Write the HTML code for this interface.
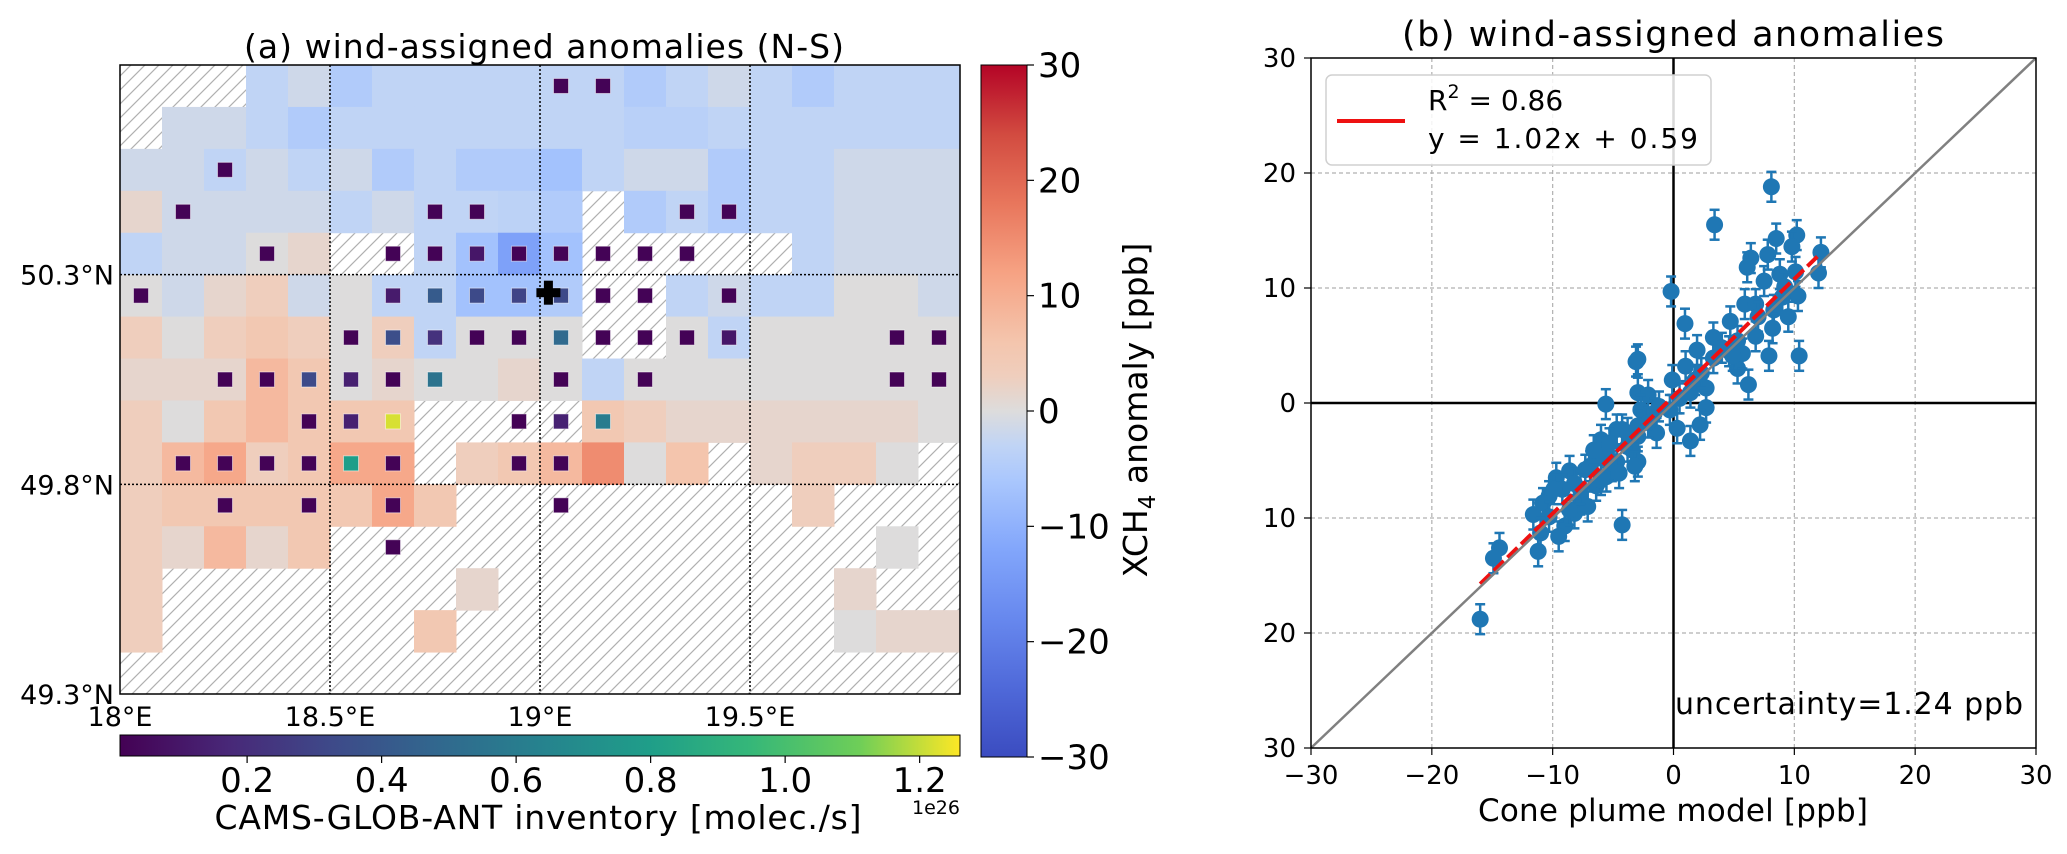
<!DOCTYPE html>
<html><head><meta charset="utf-8"><style>
html,body{margin:0;padding:0;background:#fff;}
svg{display:block;font-family:"DejaVu Sans","Liberation Sans",sans-serif;}
</style></head><body>
<svg id="fig" width="2067" height="854" viewBox="0 0 2067 854" xmlns="http://www.w3.org/2000/svg">
<defs>
<pattern id="hatch" patternUnits="userSpaceOnUse" width="14" height="14">
<rect width="14" height="14" fill="#fff"/>
<path d="M-2,16 L16,-2 M-2,2 L2,-2 M12,16 L16,12" stroke="#b0b0b0" stroke-width="1.2"/>
</pattern>
<linearGradient id="cwGrad" x1="0" y1="1" x2="0" y2="0">
<stop offset="0" stop-color="#3b4cc0"/><stop offset="0.1" stop-color="#4f69d9"/>
<stop offset="0.2" stop-color="#6788ee"/><stop offset="0.3" stop-color="#82a6fb"/>
<stop offset="0.4" stop-color="#aac7fd"/><stop offset="0.45" stop-color="#c0d4f5"/>
<stop offset="0.5" stop-color="#dddcdc"/><stop offset="0.55" stop-color="#efcebd"/>
<stop offset="0.6" stop-color="#f4c5ad"/><stop offset="0.7" stop-color="#f6a283"/>
<stop offset="0.8" stop-color="#e8765c"/><stop offset="0.9" stop-color="#d24b40"/>
<stop offset="1" stop-color="#b40426"/>
</linearGradient>
<linearGradient id="vGrad" x1="0" y1="0" x2="1" y2="0">
<stop offset="0" stop-color="#440154"/><stop offset="0.13" stop-color="#482878"/>
<stop offset="0.25" stop-color="#3e4989"/><stop offset="0.38" stop-color="#31688e"/>
<stop offset="0.5" stop-color="#26828e"/><stop offset="0.63" stop-color="#1f9e89"/>
<stop offset="0.75" stop-color="#35b779"/><stop offset="0.88" stop-color="#6ece58"/>
<stop offset="1" stop-color="#fde725"/>
</linearGradient>
</defs>

<text x="544" y="58" font-size="33" text-anchor="middle" textLength="600">(a) wind-assigned anomalies (N-S)</text>
<rect x="120" y="65" width="840" height="629" fill="url(#hatch)"/>
<g id="cells"></g>
<g id="mapgrid"></g>
<g id="squares"></g>
<g id="cross"></g>
<rect x="120" y="65" width="840" height="629" fill="none" stroke="#000" stroke-width="1.5"/>
<g id="maplabels"></g>

<rect x="981" y="65" width="46" height="692" fill="url(#cwGrad)" stroke="#000" stroke-width="1"/>
<g id="cbticks"></g>
<text transform="translate(1147,410) rotate(-90)" font-size="33" text-anchor="middle">XCH<tspan font-size="23" dy="8">4</tspan><tspan dy="-8"> anomaly [ppb]</tspan></text>

<rect x="120" y="735" width="840" height="21" fill="url(#vGrad)" stroke="#000" stroke-width="1"/>
<g id="hcbticks"></g>
<text x="538" y="829" font-size="33" text-anchor="middle" textLength="647">CAMS-GLOB-ANT inventory [molec./s]</text>
<text x="960" y="814" font-size="19" text-anchor="end">1e26</text>

<text x="1673" y="46" font-size="35" text-anchor="middle" textLength="542">(b) wind-assigned anomalies</text>
<g id="scatter"></g>
<text x="1673" y="821" font-size="31" text-anchor="middle" textLength="390">Cone plume model [ppb]</text>
<text x="1675" y="714" font-size="30" textLength="348">uncertainty=1.24 ppb</text>
<g>
<rect x="1326" y="75" width="385" height="90" rx="6" fill="#fff" fill-opacity="0.85" stroke="#d0d0d0" stroke-width="1.5"/>
<line x1="1337" y1="121" x2="1405" y2="121" stroke="#ee1111" stroke-width="4"/>
<text x="1428" y="110" font-size="28">R<tspan font-size="19" dy="-12">2</tspan><tspan dy="12"> = 0.86</tspan></text>
<text x="1428" y="148" font-size="28" textLength="270">y = 1.02x + 0.59</text>
</g>
</svg>

<script>
// ---------- panel (a) data ----------
const anomalyGrid = [
[null,null,null,-3,-1.5,-5,-3,-3,-3,-3,-3,-3,-5,-3,-1.5,-3,-5,-3,-3,-3],
[null,-1.5,-1.5,-3,-5,-3,-3,-3,-3,-3,-3,-3,-4,-4,-3,-3,-3,-3,-3,-3],
[-1.5,-1.5,-3,-1.5,-3,-1.5,-5,-3,-5,-5,-7,-3,-1.5,-1.5,-5,-3,-3,-1.5,-1.5,-1.5],
[1.5,-1.5,-1.5,-1.5,-1.5,-3,-1.5,-3,-3,-3.5,-5,null,-5,-3,-5,-3,-3,-1.5,-1.5,-1.5],
[-3,-1.5,-1.5,0,1.5,null,null,-3,-7,-13,-7,null,null,null,null,null,-3,-1.5,-1.5,-1.5],
[0,-1.5,1.5,3,-1.5,0,-3,-3,-7,-7,-5,null,null,-3,-1.5,-3,-3,0,0,-1.5],
[3,0,3,5,3,0,3,-3,0,0,0,null,null,0,-3,0,0,0,0,0],
[1.5,1.5,1.5,8,5,0,1.5,0,0,1.5,0,-3,0,0,0,0,0,0,0,0],
[3,0,5,8,5,5,5,null,null,null,null,5,3,1.5,1.5,1.5,1.5,1.5,1.5,0],
[3,8,11,3,5,11,11,null,3,5,8,15,0,6,null,1.5,3,3,0,null],
[3,5,5,5,5,5,11,5,null,null,null,null,null,null,null,null,3,null,null,null],
[3,1.5,8,1.5,5,null,null,null,null,null,null,null,null,null,null,null,null,null,0,null],
[3,null,null,null,null,null,null,null,1.5,null,null,null,null,null,null,null,null,1.5,null,null],
[3,null,null,null,null,null,null,5,null,null,null,null,null,null,null,null,null,0,1.5,1.5],
[null,null,null,null,null,null,null,null,null,null,null,null,null,null,null,null,null,null,null,null]
];
const srcRows = [0,0,2,3,3,3,3,3,4,4,4,4,4,4,4,4,4,5,5,5,5,5,5,5,5,5,6,6,6,6,6,6,6,6,6,6,6,6,7,7,7,7,7,7,7,7,7,7,8,8,8,8,8,8,9,9,9,9,9,9,9,9,10,10,10,10,11];
const srcCols = [10,11,2,1,7,8,13,14,3,6,7,8,9,10,11,12,13,0,6,7,8,9,10,11,12,14,5,6,7,8,9,10,11,12,13,14,18,19,2,3,4,5,6,7,10,12,18,19,4,5,6,9,10,11,1,2,3,4,5,6,9,10,2,4,6,10,6];
const srcEmis = [0.02,0.02,0.02,0.02,0.02,0.02,0.02,0.02,0.02,0.02,0.02,0.1,0.02,0.02,0.02,0.02,0.02,0.02,0.12,0.42,0.33,0.3,0.33,0.02,0.02,0.02,0.02,0.35,0.22,0.02,0.02,0.5,0.02,0.02,0.02,0.1,0.02,0.02,0.02,0.02,0.33,0.14,0.02,0.55,0.02,0.02,0.02,0.02,0.02,0.14,1.22,0.02,0.15,0.6,0.02,0.02,0.02,0.02,0.8,0.02,0.02,0.02,0.02,0.02,0.02,0.02,0.02];
const lonTicks = [18, 18.5, 19, 19.5];
const lonTickLabels = ["18°E","18.5°E","19°E","19.5°E"];
const latTicks = [49.3, 49.8, 50.3];
const latTickLabels = ["49.3°N","49.8°N","50.3°N"];
const cbTicks = [30,20,10,0,-10,-20,-30];
const cbTickLabels = ["30","20","10","0","\u221210","\u221220","\u221230"];
const hcbTicks = [0.2,0.4,0.6,0.8,1.0,1.2];
const hcbTickLabels = ["0.2","0.4","0.6","0.8","1.0","1.2"];
const srcLon = 19.02, srcLat = 50.257;

// ---------- panel (b) data ----------
const modelX = [8.1,3.4,10.2,9.8,8.5,12.2,12.0,7.8,6.4,6.1,7.5,8.8,10.1,9.2,-0.2,10.3,9.0,8.3,5.9,6.8,7.0,9.5,0.95,4.7,8.2,6.8,3.3,1.95,5.3,7.9,10.4,6.2,-3.1,-2.95,5.3,5.7,3.3,4.0,1.0,1.8,-0.1,2.7,-2.95,-2.1,-5.6,1.4,0.5,2.3,4.6,4.9,
-2.7,2.7,0.3,2.2,1.4,-1.6,-0.3,-1.4,-2.95,-4.25,-6.0,-5.55,-3.8,-2.95,-4.7,-6.4,-7.3,-8.6,-9.7,-8.2,-5.55,-6.4,-9.2,-10.3,-7.7,-7.1,-10.8,-11.6,-10.3,-8.2,-9.0,-11.0,-4.25,-14.4,-11.2,-14.9,-16.0,-9.5,-3.4,-4.7,-2.1,-1.2,-6.9,-5.1,-7.7,-9.9,-6.0,-3.8,-3.2,-8.6,-5.3,-6.6,-2.95,-4.5];
const obsY = [18.8,15.5,14.6,13.6,14.3,13.1,11.3,12.9,12.6,11.8,10.6,11.2,11.4,10.1,9.7,9.3,9.2,8.1,8.6,8.6,7.5,7.5,6.9,7.1,6.5,5.8,5.7,4.6,5.4,4.1,4.1,1.6,3.6,3.8,3.0,4.3,3.9,4.8,3.2,2.0,2.0,1.3,0.9,0.7,-0.1,0.9,0.4,2.6,4.5,4.1,
-0.6,-0.4,-2.2,-1.9,-3.3,-0.9,-0.6,-2.6,-2.9,-2.3,-3.2,-4.3,-3.8,-5.1,-5.1,-4.8,-5.8,-5.9,-6.5,-7.0,-6.4,-7.2,-7.5,-8.1,-8.4,-9.0,-8.7,-9.7,-9.9,-9.6,-10.7,-11.3,-10.6,-12.6,-12.9,-13.5,-18.8,-11.6,-4.1,-2.3,-1.7,-0.3,-5.5,-5.5,-7.5,-7.5,-6.7,-2.6,-5.5,-9.3,-3.5,-4.1,-2.0,-6.1];
const errBar = 1.3;
const fitSlope = 1.02, fitIntercept = 0.59, fitXMin = -16, fitXMax = 12.2;
const sTicks = [-30,-20,-10,0,10,20,30];
const sXTickLabels = ["\u221230","\u221220","\u221210","0","10","20","30"];
const sYTickLabels = ["30","20","10","0","10","20","30"];

const NS = "http://www.w3.org/2000/svg";
function mk(tag, attrs, parent){ const e=document.createElementNS(NS,tag); for(const k in attrs) e.setAttribute(k,attrs[k]); parent.appendChild(e); return e; }
const lonX = l => 120 + (l-18)*420;
const latY = la => 65 + (50.8-la)*(629/1.5);
const cbY = v => 65 + (30-v)*(692/60);
const hcbX = e => 120 + (e-0.011)*(840/(1.26-0.011));
const sx = v => 1311 + (v+30)*(725/60);
const sy = v => 58 + (30-v)*(690/60);

const cwStops=[[0,[59,76,192]],[0.1,[79,105,217]],[0.2,[103,136,238]],[0.3,[130,166,251]],[0.4,[170,199,253]],[0.45,[192,212,245]],[0.5,[221,220,220]],[0.55,[239,206,189]],[0.6,[244,197,173]],[0.7,[246,162,131]],[0.8,[232,118,92]],[0.9,[210,75,64]],[1,[180,4,38]]];
const vStops=[[0,[68,1,84]],[0.13,[72,40,120]],[0.25,[62,73,137]],[0.38,[49,104,142]],[0.5,[38,130,142]],[0.63,[31,158,137]],[0.75,[53,183,121]],[0.88,[110,206,88]],[1,[253,231,37]]];
function cmap(stops,t){ t=Math.max(0,Math.min(1,t)); for(let i=1;i<stops.length;i++){ if(t<=stops[i][0]){ const a=stops[i-1],b=stops[i]; const f=(t-a[0])/(b[0]-a[0]); const c=a[1].map((v,j)=>Math.round(v+(b[1][j]-v)*f)); return `rgb(${c[0]},${c[1]},${c[2]})`; } } const l=stops[stops.length-1][1]; return `rgb(${l[0]},${l[1]},${l[2]})`; }

const gCells=document.getElementById('cells');
const cw=lonX(18.1)-lonX(18), ch=latY(50.7)-latY(50.8);
anomalyGrid.forEach((row,r)=>row.forEach((v,c)=>{
  if(v===null) return;
  const el=mk('rect',{x:lonX(18+0.1*c),y:latY(50.8-0.1*r),width:cw+0.5,height:ch+0.5,fill:cmap(cwStops,(v+30)/60)},gCells);
  
  
}));
const gGrid=document.getElementById('mapgrid');
lonTicks.slice(1).forEach(l=>{ const el=mk('line',{x1:lonX(l),x2:lonX(l),y1:65,y2:694,stroke:'#000','stroke-width':1.5,'stroke-dasharray':'2,2'},gGrid);
  
   });
latTicks.slice(1).forEach(la=>{ const el=mk('line',{x1:120,x2:960,y1:latY(la),y2:latY(la),stroke:'#000','stroke-width':1.5,'stroke-dasharray':'2,2'},gGrid);
  
   });
const gSq=document.getElementById('squares');
srcRows.forEach((r,i)=>{ const c=srcCols[i]; const cx=lonX(18+0.1*c+0.05), cy=latY(50.8-0.1*r-0.05);
  const el=mk('rect',{x:cx-7.5,y:cy-7.5,width:15,height:15,fill:cmap(vStops,(srcEmis[i]-0.011)/(1.26-0.011)),stroke:'#fff','stroke-opacity':0.5,'stroke-width':1},gSq);
  
   });
const gC=document.getElementById('cross');
const px=lonX(srcLon), py=latY(srcLat);
mk('rect',{x:px-4.5,y:py-12,width:9,height:24,fill:'#000'},gC);
mk('rect',{x:px-12,y:py-4.5,width:24,height:9,fill:'#000'},gC);
const gL=document.getElementById('maplabels');
lonTicks.forEach((l,i)=>{ const t=mk('text',{x:lonX(l),y:726,'font-size':27,'text-anchor':'middle'},gL); t.textContent=lonTickLabels[i];
  
   });
latTicks.forEach((la,i)=>{ const t=mk('text',{x:114,y:latY(la)+10,'font-size':27,'text-anchor':'end'},gL); t.textContent=latTickLabels[i];
  
   });
const gCB=document.getElementById('cbticks');
cbTicks.forEach((v,i)=>{ const y=cbY(v); mk('line',{x1:1027,x2:1034,y1:y,y2:y,stroke:'#000','stroke-width':1.2},gCB);
  const t=mk('text',{x:1038,y:y+12,'font-size':34},gCB); t.textContent=cbTickLabels[i];
  
   });
const gH=document.getElementById('hcbticks');
hcbTicks.forEach((v,i)=>{ const x=hcbX(v); mk('line',{x1:x,x2:x,y1:756,y2:763,stroke:'#000','stroke-width':1.2},gH);
  const t=mk('text',{x:x,y:792,'font-size':34,'text-anchor':'middle'},gH); t.textContent=hcbTickLabels[i];
  
   });

const gS=document.getElementById('scatter');
sTicks.forEach((v,i)=>{
  if(v!==-30 && v!==30){
    const gx=mk('line',{x1:sx(v),x2:sx(v),y1:58,y2:748,stroke:'#b0b0b0','stroke-width':1.2,'stroke-dasharray':'4,3'},gS);
    
    
    const gy=mk('line',{x1:1311,x2:2036,y1:sy(v),y2:sy(v),stroke:'#b0b0b0','stroke-width':1.2,'stroke-dasharray':'4,3'},gS);
    
    
  }
  mk('line',{x1:sx(v),x2:sx(v),y1:748,y2:755,stroke:'#000','stroke-width':1.2},gS);
  mk('line',{x1:1304,x2:1311,y1:sy(v),y2:sy(v),stroke:'#000','stroke-width':1.2},gS);
  const tx=mk('text',{x:sx(v),y:784,'font-size':26,'text-anchor':'middle'},gS); tx.textContent=sXTickLabels[i];
  
  
  const ty=mk('text',{x:1296,y:sy(-v)+9,'font-size':26,'text-anchor':'end'},gS); ty.textContent=sYTickLabels[i];
  
  
});
const ax0=mk('line',{x1:sx(0),x2:sx(0),y1:58,y2:748,stroke:'#000','stroke-width':2.5},gS);


const ay0=mk('line',{x1:1311,x2:2036,y1:sy(0),y2:sy(0),stroke:'#000','stroke-width':2.5},gS);


modelX.forEach((xv,i)=>{ const yv=obsY[i]; const x=sx(xv);
  mk('line',{x1:x,x2:x,y1:sy(yv+errBar),y2:sy(yv-errBar),stroke:'#1f77b4','stroke-width':2.5},gS);
  mk('line',{x1:x-5,x2:x+5,y1:sy(yv+errBar),y2:sy(yv+errBar),stroke:'#1f77b4','stroke-width':2.5},gS);
  mk('line',{x1:x-5,x2:x+5,y1:sy(yv-errBar),y2:sy(yv-errBar),stroke:'#1f77b4','stroke-width':2.5},gS);
  const c=mk('circle',{cx:x,cy:sy(yv),r:8.5,fill:'#1f77b4'},gS);
  
  
});
const fit=mk('line',{x1:sx(fitXMin),y1:sy(fitSlope*fitXMin+fitIntercept),x2:sx(fitXMax),y2:sy(fitSlope*fitXMax+fitIntercept),stroke:'#ee1111','stroke-width':4,'stroke-dasharray':'14,5'},gS);


const one=mk('line',{x1:sx(-30),y1:sy(-30),x2:sx(30),y2:sy(30),stroke:'#808080','stroke-width':2.5},gS);


const fr=mk('rect',{x:1311,y:58,width:725,height:690,fill:'none',stroke:'#000','stroke-width':1.5},gS);


</script>
</body></html>
